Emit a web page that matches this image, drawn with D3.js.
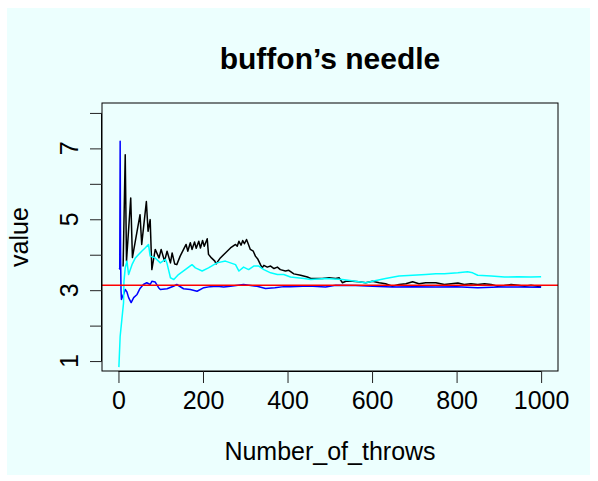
<!DOCTYPE html>
<html>
<head>
<meta charset="utf-8">
<script src="https://cdn.jsdelivr.net/npm/d3@7"></script>
<style>
  body { margin: 0; background: #ffffff; }
  svg { display: block; font-family: "Liberation Sans", Arial, sans-serif; }
</style>
</head>
<body>
<div id="chart"></div>
<script>
// Buffon's needle running estimates as [throw, value]

const blackSeries = [
  [11,3.67],[16,6.82],[19,3.82],[29,5.6],[33,3.92],[51,5.13],[55,4.29],[66,5.5],[70,4.66],
  [75,4.99],[79,3.58],[87,4.15],[96,3.91],[101,4.15],[109,3.82],[115,4.10],[123,3.77],
  [127,4.05],[133,3.74],[138,3.72],[146,3.96],[154,4.15],[160,4.29],[164,4.10],[170,4.34],
  [174,4.15],[180,4.36],[184,4.18],[190,4.38],[194,4.19],[199,4.40],[203,4.24],[210,4.45],
  [213,4.01],[220,3.91],[228,3.82],[231,3.74],[241,3.91],[253,4.05],[265,4.19],[277,4.29],
  [281,4.24],[285,4.38],[290,4.27],[294,4.40],[298,4.31],[303,4.43],[306,4.34],[312,4.15],
  [319,4.10],[324,3.96],[330,3.87],[336,3.72],[340,3.63],[344,3.70],[352,3.65],[360,3.68],
  [368,3.61],[376,3.65],[383,3.58],[395,3.54],[403,3.56],[415,3.46],[431,3.42],[447,3.37],
  [455,3.33],[466,3.33],[482,3.33],[498,3.35],[514,3.33],[522,3.35],[530,3.21],[538,3.25],
  [553,3.25],[569,3.24],[585,3.21],[601,3.25],[617,3.21],[632,3.18],[648,3.11],[664,3.16],
  [680,3.18],[696,3.24],[711,3.18],[727,3.21],[751,3.21],[771,3.16],[787,3.18],[803,3.20],
  [818,3.16],[834,3.18],[850,3.16],[866,3.18],[882,3.16],[897,3.11],[913,3.13],[929,3.16],
  [945,3.14],[961,3.11],[976,3.14],[992,3.11],[1000,3.12]
];

const cyanSeries = [
  [1,0.83],[4,1.7],[8,2.17],[12,2.64],[13,3.25],[16,3.63],[20,3.82],[24,3.44],[32,3.72],
  [40,3.91],[47,4.0],[55,4.1],[63,4.19],[71,4.29],[75,3.96],[87,3.91],[99,3.77],[111,3.87],
  [115,3.75],[123,3.35],[131,3.30],[142,3.44],[158,3.58],[174,3.72],[182,3.63],[198,3.54],
  [213,3.63],[233,3.77],[253,3.82],[265,3.77],[277,3.72],[285,3.54],[296,3.65],[308,3.58],
  [320,3.68],[332,3.68],[344,3.58],[360,3.49],[376,3.44],[391,3.44],[407,3.37],[423,3.35],
  [439,3.33],[455,3.30],[490,3.33],[530,3.30],[561,3.25],[585,3.21],[601,3.25],[632,3.33],
  [664,3.40],[696,3.42],[727,3.44],[751,3.46],[771,3.46],[803,3.49],[826,3.52],[838,3.49],
  [850,3.42],[882,3.40],[913,3.37],[945,3.38],[976,3.37],[1000,3.38]
];

const blueSeries = [
  [2,3.63],[3,3.6],[4,7.2],[5,4.0],[6,3.0],[7,2.74],[9,2.8],[12,2.88],[16,3.02],[20,2.95],
  [24,2.79],[30,2.65],[36,2.79],[44,2.88],[51,3.05],[59,3.16],[67,3.21],[75,3.16],[79,3.25],
  [87,3.23],[95,3.07],[99,3.02],[115,3.04],[130,3.11],[138,3.16],[154,3.04],[170,3.02],
  [186,2.97],[202,3.07],[217,3.10],[233,3.11],[249,3.09],[265,3.11],[296,3.16],[328,3.11],
  [348,3.05],[370,3.07],[391,3.10],[407,3.10],[450,3.12],[490,3.09],[514,3.14],[561,3.13],
  [601,3.11],[648,3.09],[700,3.10],[751,3.09],[800,3.10],[850,3.07],[900,3.09],[950,3.09],
  [1000,3.08]
];

const xTicks = [0, 200, 400, 600, 800, 1000];
const yTicks = [1, 2, 3, 4, 5, 6, 7, 8];
const yLabelTicks = [1, 3, 5, 7];
const piValue = Math.PI;

const W = 598, H = 481;
const box = { left: 102, right: 558, top: 103, bottom: 371 };

const svg = d3.select("#chart")
  .append("svg")
  .attr("width", W)
  .attr("height", H);

// light cyan figure background
svg.append("rect")
  .attr("x", 7).attr("y", 8)
  .attr("width", 583).attr("height", 467)
  .attr("fill", "#ecfffe");

// Scales (R style: 4% padding around the range)
const xScale = d3.scaleLinear()
  .domain([1 - 0.04 * 999, 1000 + 0.04 * 999])
  .range([box.left, box.right]);

const yScale = d3.scaleLinear()
  .domain([1 - 0.04 * 7, 8 + 0.04 * 7])
  .range([box.bottom, box.top]);

const clip = svg.append("clipPath").attr("id", "plotclip")
  .append("rect")
  .attr("x", box.left).attr("y", box.top)
  .attr("width", box.right - box.left).attr("height", box.bottom - box.top);

// Lines

const lineGenerator = d3.line()
  .x(d => xScale(d[0]))
  .y(d => yScale(d[1]));

const plot = svg.append("g").attr("clip-path", "url(#plotclip)");

const seriesList = [
  { data: blackSeries, color: "#000000" },
  { data: blueSeries, color: "#0000ff" },
  { data: cyanSeries, color: "#00ffff" }
];

plot.selectAll(".series")
  .data(seriesList)
  .enter()
  .append("path")
  .attr("class", "series")
  .attr("fill", "none")
  .attr("stroke", d => d.color)
  .attr("stroke-width", 1.5)
  .attr("stroke-linejoin", "round")
  .attr("d", d => lineGenerator(d.data));

plot.append("line")
  .attr("x1", box.left).attr("x2", box.right)
  .attr("y1", yScale(piValue)).attr("y2", yScale(piValue))
  .attr("stroke", "#ff0000")
  .attr("stroke-width", 1.5);

// Box

svg.append("rect")
  .attr("x", box.left).attr("y", box.top)
  .attr("width", box.right - box.left).attr("height", box.bottom - box.top)
  .attr("fill", "none")
  .attr("stroke", "#000")
  .attr("stroke-width", 1);

// Axes

const xAxis = svg.append("g")
  .attr("transform", `translate(0,${box.bottom})`)
  .call(d3.axisBottom(xScale).tickValues(xTicks).tickSize(12).tickPadding(8).tickFormat(d3.format("d")));

xAxis.select(".domain").attr("d", `M${xScale(0)},0.5H${xScale(1000)}`);
xAxis.selectAll("text").attr("font-size", 25).attr("fill", "#000").attr("font-family", "Liberation Sans, Arial, sans-serif");
xAxis.selectAll("line").attr("stroke", "#222");

const yAxis = svg.append("g")
  .attr("transform", `translate(${box.left},0)`)
  .call(d3.axisLeft(yScale).tickValues(yTicks).tickSize(12).tickFormat(""));

yAxis.select(".domain").attr("d", `M-0.5,${yScale(1)}V${yScale(8)}`);
yAxis.selectAll("line").attr("stroke", "#222");

svg.selectAll(".ylab")
  .data(yLabelTicks)
  .enter()
  .append("text")
  .attr("class", "ylab")
  .attr("transform", d => `translate(78,${yScale(d)}) rotate(-90)`)
  .attr("text-anchor", "middle")
  .attr("font-size", 25)
  .text(d => d);

// Titles

svg.append("text")
  .attr("x", (box.left + box.right) / 2)
  .attr("y", 69)
  .attr("text-anchor", "middle")
  .attr("font-size", 30)
  .attr("font-weight", "bold")
  .text("buffon\u2019s needle");

svg.append("text")
  .attr("x", (box.left + box.right) / 2)
  .attr("y", 460)
  .attr("text-anchor", "middle")
  .attr("font-size", 25)
  .text("Number_of_throws");

svg.append("text")
  .attr("transform", `translate(28,${(box.top + box.bottom) / 2}) rotate(-90)`)
  .attr("text-anchor", "middle")
  .attr("font-size", 25)
  .text("value");
</script>
</body>
</html>
